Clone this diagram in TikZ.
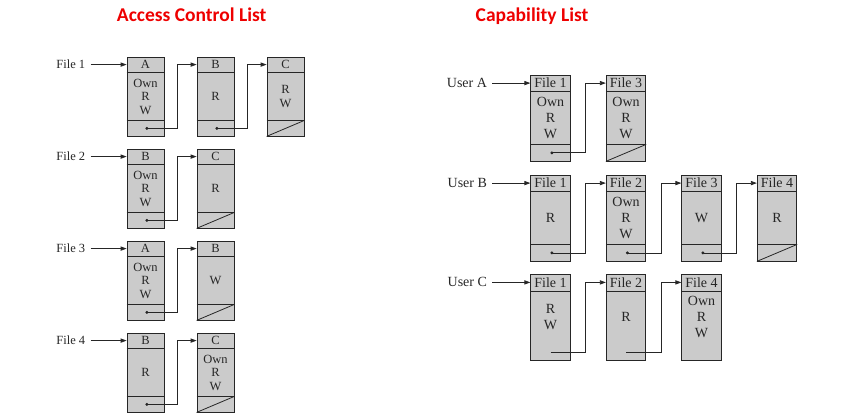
\documentclass[tikz,border=0pt]{standalone}
\usepackage{fontspec}
\setmainfont{Liberation Serif}
\newfontfamily\titlefont{Carlito}
\usepackage{tikz}
\usetikzlibrary{positioning}
\usetikzlibrary{arrows.meta}
\definecolor{boxgray}{RGB}{203,203,203}
\definecolor{titlered}{RGB}{238,0,0}

\begin{document}
\begin{tikzpicture}[x=1pt, y=-1pt, line width=0.8pt, color=black!85,
    >={Triangle[length=6pt, width=4.2pt]},
    ptr/.style = {{Circle[length=2.8pt]}->},
    title/.style = {font=\titlefont\bfseries\fontsize{19.5}{22}\selectfont, text=titlered, anchor=base},
    hdr/.style = {append after command={([yshift=-#1]\tikzlastnode.north west) edge ([yshift=-#1]\tikzlastnode.north east)}},
    ftr/.style = {append after command={([yshift=#1]\tikzlastnode.south west) edge ([yshift=#1]\tikzlastnode.south east)}},
    nil/.style = {append after command={(\tikzlastnode.south west) edge ([yshift=#1]\tikzlastnode.south east)}},
    aclbox/.style = {draw, fill=boxgray, minimum width=37pt, minimum height=79pt, inner sep=0pt,
      align=center, font=\fontsize{12.5}{13.5}\selectfont, hdr=16pt, ftr=16pt},
    aclhead/.style = {label={[anchor=center, yshift=-8pt, font=\fontsize{12.5}{13.5}\selectfont]north:#1}},
    capbox/.style = {draw, fill=boxgray, minimum width=39.5pt, minimum height=86pt, inner sep=0pt,
      align=center, font=\fontsize{14}{16}\selectfont, hdr=17pt},
    caphead/.style = {label={[anchor=center, yshift=-8.5pt, font=\fontsize{14}{16}\selectfont]north:#1}},
    fname/.style = {inner xsep=5pt, font=\fontsize{12.5}{13.5}\selectfont},
    uname/.style = {inner xsep=5pt, font=\fontsize{14}{16}\selectfont}
    ]
    \useasboundingbox (0,0) rectangle (851,414);

    \node[title] (acltitle) at (191.7,21.7) {Access Control List};
    \node[title] (captitle) at (532,21.7) {Capability List};

    % access control list
    \node[aclbox, aclhead=A] (f1a) at (145.5,96.5) {Own\\R\\W};
    \node[aclbox, aclhead=B] (f1b) [right=32.2pt of f1a] {R};
    \node[aclbox, aclhead=C, nil=16pt] (f1c) [right=32.2pt of f1b] {R\\W};

    \node[aclbox, aclhead=B] (f2a) [below=12.2pt of f1a] {Own\\R\\W};
    \node[aclbox, aclhead=C, nil=16pt] (f2b) [right=32.2pt of f2a] {R};

    \node[aclbox, aclhead=A] (f3a) [below=12.2pt of f2a] {Own\\R\\W};
    \node[aclbox, aclhead=B, nil=16pt] (f3b) [right=32.2pt of f3a] {W};

    \node[aclbox, aclhead=B] (f4a) [below=12.2pt of f3a] {R};
    \node[aclbox, aclhead=C, nil=16pt] (f4b) [right=32.2pt of f4a] {Own\\R\\W};

    \node[fname] (file1) [left=36pt of f1a.north west, yshift=-8pt] {File 1};
    \node[fname] (file2) [left=36pt of f2a.north west, yshift=-8pt] {File 2};
    \node[fname] (file3) [left=36pt of f3a.north west, yshift=-8pt] {File 3};
    \node[fname] (file4) [left=36pt of f4a.north west, yshift=-8pt] {File 4};

    \draw[->] (file1) -- (file1 -| f1a.west);
    \draw[->] (file2) -- (file2 -| f2a.west);
    \draw[->] (file3) -- (file3 -| f3a.west);
    \draw[->] (file4) -- (file4 -| f4a.west);

    \draw[ptr] ([yshift=8pt]f1a.south) -| ([xshift=13pt]f1a.east) |- ([yshift=-8pt]f1b.north west);
    \draw[ptr] ([yshift=8pt]f1b.south) -| ([xshift=13pt]f1b.east) |- ([yshift=-8pt]f1c.north west);
    \draw[ptr] ([yshift=8pt]f2a.south) -| ([xshift=13pt]f2a.east) |- ([yshift=-8pt]f2b.north west);
    \draw[ptr] ([yshift=8pt]f3a.south) -| ([xshift=13pt]f3a.east) |- ([yshift=-8pt]f3b.north west);
    \draw[ptr] ([yshift=8pt]f4a.south) -| ([xshift=13pt]f4a.east) |- ([yshift=-8pt]f4b.north west);

    % capability list
    \node[capbox, caphead=File 1, ftr=17pt] (ua1) at (550.5,118) {Own\\R\\W};
    \node[capbox, caphead=File 3, ftr=17pt, nil=17pt] (ua2) [right=35.2pt of ua1] {Own\\R\\W};

    \node[capbox, caphead=File 1, ftr=17pt] (ub1) [below=13.2pt of ua1] {R};
    \node[capbox, caphead=File 2, ftr=17pt] (ub2) [right=35.2pt of ub1] {Own\\R\\W};
    \node[capbox, caphead=File 3, ftr=17pt] (ub3) [right=35.2pt of ub2] {W};
    \node[capbox, caphead=File 4, ftr=17pt, nil=17pt] (ub4) [right=35.2pt of ub3] {R};

    \node[capbox, caphead=File 1] (uc1) [below=12.5pt of ub1] {R\\W};
    \node[capbox, caphead=File 2] (uc2) [right=35.2pt of uc1] {R};
    \node[capbox, caphead=File 4] (uc3) [right=35.2pt of uc2] {Own\\R\\W};

    \node[uname] (usera) [left=38pt of ua1.north west, yshift=-8.5pt] {User A};
    \node[uname] (userb) [left=38pt of ub1.north west, yshift=-8.5pt] {User B};
    \node[uname] (userc) [left=38pt of uc1.north west, yshift=-8.5pt] {User C};

    \draw[->] (usera) -- (usera -| ua1.west);
    \draw[->] (userb) -- (userb -| ub1.west);
    \draw[->] (userc) -- (userc -| uc1.west);

    \draw[ptr] ([yshift=8.5pt]ua1.south) -| ([xshift=15pt]ua1.east) |- ([yshift=-8.5pt]ua2.north west);
    \draw[ptr] ([yshift=8.5pt]ub1.south) -| ([xshift=15pt]ub1.east) |- ([yshift=-8.5pt]ub2.north west);
    \draw[ptr] ([yshift=8.5pt]ub2.south) -| ([xshift=15pt]ub2.east) |- ([yshift=-8.5pt]ub3.north west);
    \draw[ptr] ([yshift=8.5pt]ub3.south) -| ([xshift=15pt]ub3.east) |- ([yshift=-8.5pt]ub4.north west);
    \draw[->] ([yshift=8.5pt]uc1.south) -| ([xshift=15pt]uc1.east) |- ([yshift=-8.5pt]uc2.north west);
    \draw[->] ([yshift=8.5pt]uc2.south) -| ([xshift=15pt]uc2.east) |- ([yshift=-8.5pt]uc3.north west);
\end{tikzpicture}
\end{document}
